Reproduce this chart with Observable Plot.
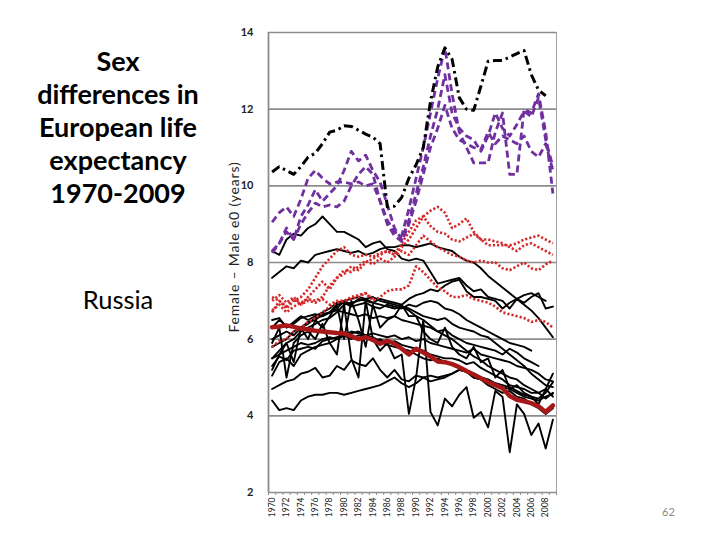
<!DOCTYPE html>
<html><head><meta charset="utf-8">
<script src="https://cdn.jsdelivr.net/npm/d3@7"></script>
<script src="https://cdn.jsdelivr.net/npm/@observablehq/plot@0.6"></script>
<style>
body{margin:0;background:#fff;}
#wrap{position:relative;width:720px;height:540px;overflow:hidden;}
#chart{position:absolute;left:0;top:0;}
#title{position:absolute;left:10px;width:216px;top:44px;text-align:center;font:bold 27px/33px Lato,sans-serif;color:#000;}
#sub{position:absolute;left:20px;width:196px;top:284px;text-align:center;font:25.5px/30px Lato,sans-serif;color:#000;}
#ylab{position:absolute;left:109px;top:238px;width:250px;text-align:center;font:14px/18px Lato,sans-serif;letter-spacing:0.8px;color:#222;transform:rotate(-90deg);transform-origin:center;}
#page{position:absolute;left:662px;top:505px;font:11px Lato,sans-serif;color:#888;}
</style></head>
<body>
<div id="wrap">
<div id="chart"></div>
<div id="title">Sex<br>differences in<br>European life<br>expectancy<br>1970-2009</div>
<div id="sub">Russia</div>
<div id="ylab">Female – Male e0 (years)</div>
<div id="page">62</div>
</div>
<script>
const years = d3.range(1970, 2010);
const yTicks = [2, 4, 6, 8, 10, 12, 14];
const xLabelYears = d3.range(1970, 2010, 2);

// Russia (black dash-dot)
const russia = [10.36,10.5,10.4,10.3,10.5,10.75,10.85,11.1,11.4,11.45, 11.57,11.55,11.45,11.35,11.27,11.1,9.45,9.47,9.7,10.2, 10.55,11.0,12.2,13.1,13.6,13.3,12.3,12.0,11.97,12.6, 13.25,13.27,13.27,13.36,13.45,13.53,12.9,12.5,12.35,null];

// purple dashed series
const purpleA = [9.05,9.3,9.45,9.2,9.65,10.2,10.4,10.2,10.05,10.1, 10.1,10.05,10.1,10.0,10.05,9.6,9.1,8.8,8.7,9.4, 10.2,11.0,11.9,12.8,13.6,12.4,11.4,11.0,10.6,10.6, 10.6,11.4,11.9,10.3,10.3,12.0,11.9,12.4,11.4,9.8];
const purpleB = [8.3,8.5,8.9,8.6,9.2,9.5,9.9,9.6,9.8,10.0, 10.4,10.9,10.65,10.8,10.4,10.1,9.5,8.9,8.6,9.1, 9.8,10.5,11.3,12.0,12.9,11.9,11.5,11.3,11.2,10.9, 11.3,11.9,11.5,11.3,11.6,11.95,11.8,12.3,11.2,10.5];
const purpleC = [8.25,8.5,8.8,8.6,9.0,9.3,9.55,9.45,9.5,9.45, 9.6,10.0,10.3,10.5,10.3,9.6,9.0,8.7,8.55,9.0, 9.6,10.3,11.0,11.5,12.1,11.5,11.2,11.1,11.0,10.95, 11.4,11.1,11.3,11.2,11.1,11.3,10.9,10.75,11.1,10.4];

// red dotted series
const red1 = [6.7,7.0,6.8,7.0,7.1,7.3,7.6,7.9,8.1,8.3, 8.4,8.2,8.15,8.2,8.15,8.25,8.3,8.2,8.4,8.6, 8.9,9.2,9.35,9.45,9.3,8.9,9.0,9.15,8.8,8.6, 8.45,8.45,8.45,8.45,8.5,8.6,8.65,8.7,8.6,8.5];
const red2 = [7.1,7.0,6.85,7.05,6.9,7.1,7.3,7.5,7.3,7.6, 7.7,7.9,7.8,8.0,8.1,8.2,8.3,8.2,8.5,8.8, 9.1,9.2,8.95,8.8,8.75,8.6,8.55,8.65,8.75,8.6, 8.6,8.55,8.5,8.4,8.3,8.45,8.5,8.4,8.3,8.2];
const red3 = [6.75,6.9,6.7,6.85,6.95,7.05,7.0,7.1,7.4,7.6, 7.8,7.75,7.9,8.05,7.95,8.1,8.0,8.15,8.3,8.2, 8.45,8.7,8.55,8.4,8.3,8.2,8.15,8.05,8.0,8.05, 8.0,8.0,7.85,7.8,7.9,8.0,7.85,7.8,7.95,8.05];
const red4 = [7.0,7.15,6.95,7.1,6.9,7.0,6.95,7.05,6.9,7.0, 7.0,7.1,7.15,7.2,7.0,7.1,7.25,7.3,7.3,7.4, 7.9,7.75,7.55,7.35,7.25,7.1,7.1,7.15,7.05,7.0, 6.95,6.85,6.7,6.65,6.6,6.55,6.45,6.5,6.45,6.3];
const red5 = [5.8,5.95,6.0,6.2,6.3,6.45,6.55,6.7,6.85,6.95, 7.0,7.05,7.1,7.2,7.05,null,null,null,null,null, null,null,null,null,null,null,null,null,null,null, null,null,null,null,null,null,null,null,null,null];

// thick dark red series
const average = [6.31,6.33,6.36,6.32,6.28,6.25,6.22,6.2,6.18,6.16, 6.15,6.08,6.0,6.05,5.98,5.88,5.96,5.88,5.75,5.6, 5.75,5.65,5.55,5.42,5.4,5.35,5.27,5.17,5.08,4.98, 4.88,4.8,4.72,4.52,4.42,4.38,4.33,4.25,4.1,4.27];

// black solid series
const black1 = [8.3,8.2,8.6,8.75,8.7,8.9,9.0,9.2,9.0,8.8, 8.8,8.7,8.6,8.4,8.5,8.55,8.35,8.3,8.1,8.05, 8.1,8.05,7.75,7.45,7.5,7.55,7.6,7.4,7.25,7.3, 7.1,7.05,7.0,6.8,7.05,6.95,7.1,7.2,6.8,6.85];
const black2 = [7.6,7.75,7.9,7.85,8.05,8.0,8.2,8.25,8.3,8.35, 8.3,8.25,8.3,8.2,8.25,8.35,8.4,8.4,8.45,8.45, 8.4,8.45,8.5,8.4,8.35,8.3,8.15,8.05,8.0,7.85, 7.65,7.5,7.35,7.2,7.05,6.9,6.75,6.55,6.3,6.05];
const black3 = [6.5,6.55,6.3,6.45,6.6,6.5,6.6,6.7,6.8,6.95, 7.0,6.9,7.05,7.0,6.95,7.05,7.0,6.95,6.9,7.05, 7.15,7.2,7.3,7.25,7.4,7.5,7.55,7.25,7.1,7.1, 7.05,7.0,6.8,6.95,7.05,7.15,7.2,7.1,7.0,null];
const black4 = [6.0,6.1,6.2,6.1,6.3,6.45,6.5,6.65,6.7,6.9, 6.95,6.85,6.9,6.95,6.85,6.8,6.9,6.85,6.8,6.9, 6.85,6.95,7.0,6.95,6.8,6.75,6.65,6.5,6.4,6.3, 6.2,6.1,6.0,5.9,5.85,5.8,5.7,null,null,null];
const black5 = [6.3,6.5,6.35,6.4,6.55,6.6,6.65,6.6,6.7,6.75, 6.7,6.65,6.6,6.65,6.55,6.6,6.55,6.6,6.5,6.45, 6.4,6.35,6.3,6.2,6.25,6.1,6.0,5.9,5.85,5.8, 5.75,5.7,5.6,5.75,5.65,5.5,5.4,5.3,null,null];
const black6 = [5.5,5.6,5.7,5.8,5.9,5.85,5.9,6.0,6.05,6.0, 6.1,6.15,6.2,6.1,6.15,6.1,6.05,6.1,6.0,6.05, 5.95,6.0,5.9,5.85,5.8,5.75,5.7,5.65,5.75,5.6, 5.55,5.5,5.45,5.4,5.3,5.25,5.2,5.1,4.95,4.9];
const black7 = [5.05,5.4,5.5,5.3,5.6,5.7,5.8,5.85,5.9,6.0, 6.1,6.0,6.1,6.05,5.95,6.0,5.9,5.95,5.85,5.8, 5.75,5.7,5.6,5.55,5.5,5.5,5.45,5.35,5.4,5.25, 5.15,5.05,4.95,4.8,4.75,4.7,4.6,4.6,4.7,5.1];
const black8 = [5.3,5.55,5.45,5.7,5.75,5.8,5.75,5.95,6.0,6.05, 6.1,6.2,6.15,6.1,6.05,5.95,5.85,5.8,5.75,5.7, 5.6,5.5,5.45,5.5,5.4,5.35,5.25,5.15,5.1,5.0, 4.95,4.85,4.8,4.75,4.65,4.55,4.5,4.45,4.6,4.88];
const black9 = [4.7,4.8,4.9,4.95,5.1,5.15,5.25,5.0,5.05,5.3, 5.2,5.45,5.35,5.3,5.5,5.2,5.0,5.2,4.95,4.9, 5.05,5.0,5.05,5.0,5.05,5.1,5.2,5.15,5.0,4.95, 4.9,4.85,4.75,4.7,4.6,4.5,4.45,4.4,4.5,4.58];
const black10 = [4.4,4.15,4.2,4.15,4.4,4.5,4.55,4.55,4.6,4.6, 4.55,4.6,4.65,4.7,4.75,4.8,4.9,5.0,4.85,4.75, 4.85,5.0,4.9,4.95,5.0,5.1,5.2,5.15,5.0,4.95, 4.8,4.7,4.6,4.65,4.5,4.45,4.3,4.2,4.05,4.2];
const black11 = [5.5,5.7,5.9,6.0,6.2,6.3,6.4,6.5,6.55,6.7, 6.9,6.95,7.0,7.05,7.1,7.0,6.95,6.9,6.85,6.8, 6.7,6.6,6.55,6.5,6.55,6.4,6.3,6.25,6.2,6.1, 6.05,5.9,5.75,5.6,5.45,5.3,5.1,4.95,4.8,4.75];
const black12 = [5.8,5.9,6.0,6.2,6.3,6.4,6.55,6.6,6.7,6.8, 7.0,7.05,7.1,7.05,6.95,6.9,6.85,6.8,6.85,6.75, 6.6,6.5,6.35,6.2,6.1,6.0,5.85,5.7,5.55,5.45, 5.3,5.2,5.1,5.0,4.95,4.8,4.7,4.6,4.45,4.6];
const black13 = [5.9,6.3,5.0,5.9,6.1,6.2,6.0,6.4,5.9,5.6, 6.9,5.5,5.0,7.0,6.0,5.7,5.9,5.5,5.6,4.05, 5.0,6.5,4.1,3.75,4.45,4.25,4.55,4.75,3.95,4.1, 3.7,4.65,4.5,3.05,4.3,4.05,3.5,3.8,3.15,3.9];
const black14 = [5.2,5.6,5.9,5.4,6.3,6.0,6.5,6.3,6.6,6.9, 6.0,7.0,6.5,5.8,6.9,6.3,6.5,6.6,6.9,6.6, 6.6,6.2,6.0,5.9,6.3,5.8,5.6,5.5,5.8,5.4, 5.5,5.0,5.2,4.7,4.8,4.6,4.5,4.3,4.7,4.5];

const seriesList = [
  ["black1","black",black1],["black2","black",black2],["black3","black",black3],["black4","black",black4],
  ["black5","black",black5],["black6","black",black6],["black7","black",black7],["black8","black",black8],
  ["black9","black",black9],["black10","black",black10],["black11","black",black11],["black12","black",black12],
  ["black13","black",black13],["black14","black",black14],
  ["red1","red",red1],["red2","red",red2],["red3","red",red3],["red4","red",red4],["red5","red",red5],
  ["purpleA","purple",purpleA],["purpleB","purple",purpleB],["purpleC","purple",purpleC],
  ["russia","russia",russia],["average","average",average]
];
const rows = seriesList.flatMap(([name, kind, vals]) =>
  vals.map((v, i) => ({name, kind, year: years[i], value: v})));
const of = k => rows.filter(d => d.kind === k);

const chart = Plot.plot({
  width: 720, height: 540,
  marginLeft: 268, marginRight: 164, marginTop: 32, marginBottom: 48,
  style: {fontFamily: "Lato, sans-serif", background: "transparent", overflow: "visible"},
  x: {domain: [1969.5, 2009.5]},
  y: {domain: [2, 14]},
  marks: [
    Plot.gridY(yTicks, {stroke: "#8c8c8c", strokeOpacity: 1, strokeWidth: 1.6}),
    Plot.ruleX([1969.5], {stroke: "#8c8c8c", strokeWidth: 1.8}),
    Plot.ruleX([2009.5], {stroke: "#a0a0a0", strokeWidth: 1}),
    Plot.axisX(d3.range(1969.5, 2010, 1), {tickSize: 3, stroke: "#8c8c8c", tickFormat: () => "", label: null}),
    Plot.axisX(xLabelYears, {tickSize: 0, tickPadding: 5, tickRotate: -90, fontSize: 8.5, fill: "#222", tickFormat: d => String(d), label: null}),
    Plot.axisY(yTicks, {tickSize: 0, tickPadding: 15, fontSize: 11, fontWeight: "bold", fill: "#222", label: null}),
    Plot.line(of("black"), {x: "year", y: "value", z: "name", stroke: "#000", strokeWidth: 1.9}),
    Plot.line(of("red"), {x: "year", y: "value", z: "name", stroke: "#d42a2a", strokeWidth: 2.6, strokeDasharray: "2.2 2", strokeLinecap: "butt"}),
    Plot.line(of("purple"), {x: "year", y: "value", z: "name", stroke: "#7030a0", strokeWidth: 2.8, strokeDasharray: "7 4", strokeLinecap: "butt"}),
    Plot.line(of("russia"), {x: "year", y: "value", z: "name", stroke: "#000", strokeWidth: 3, strokeDasharray: "9 4 2.5 4", strokeLinecap: "butt"}),
    Plot.line(of("average"), {x: "year", y: "value", z: "name", stroke: "#a81818", strokeWidth: 4.5})
  ]
});
document.getElementById("chart").appendChild(chart);
</script>
</body></html>
